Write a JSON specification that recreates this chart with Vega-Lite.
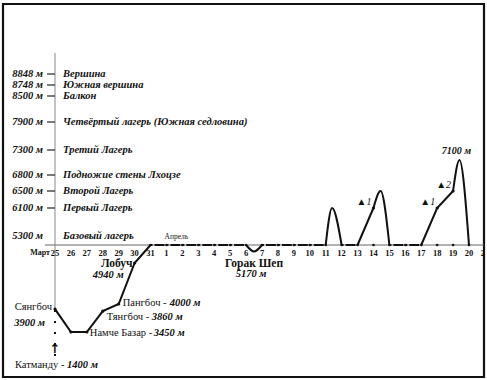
{
  "$schema": "https://vega.github.io/schema/vega-lite/v6.json",
  "width": 481,
  "height": 373,
  "autosize": {"type": "none"},
  "padding": {"left": 3, "top": 4, "right": 3, "bottom": 3},
  "background": "white",
  "config": {"view": {"stroke": "#111", "strokeWidth": 2.2}, "text": {"font": "Liberation Serif", "color": "#111"}},
  "datasets": {
    "camps": [
      {"alt": 8848, "label": "8848 м", "name": "Вершина"},
      {"alt": 8748, "label": "8748 м", "name": "Южная вершина"},
      {"alt": 8500, "label": "8500 м", "name": "Балкон"},
      {"alt": 7900, "label": "7900 м", "name": "Четвёртый лагерь (Южная седловина)"},
      {"alt": 7300, "label": "7300 м", "name": "Третий Лагерь"},
      {"alt": 6800, "label": "6800 м", "name": "Подножие стены Лхоцзе"},
      {"alt": 6500, "label": "6500 м", "name": "Второй Лагерь"},
      {"alt": 6100, "label": "6100 м", "name": "Первый Лагерь"},
      {"alt": 5300, "label": "5300 м", "name": "Базовый лагерь"}
    ],
    "trek": [
      {"seg": "t", "d": 0, "alt": 3900}, {"seg": "t", "d": 1, "alt": 3450}, {"seg": "t", "d": 2, "alt": 3450},
      {"seg": "t", "d": 3, "alt": 3860}, {"seg": "t", "d": 4, "alt": 4000}, {"seg": "t", "d": 5, "alt": 4940},
      {"seg": "t", "d": 6, "alt": 5300},
      {"seg": "p2", "d": 19, "alt": 5300}, {"seg": "p2", "d": 20, "alt": 6100},
      {"seg": "p3", "d": 23, "alt": 5300}, {"seg": "p3", "d": 24, "alt": 6100}, {"seg": "p3", "d": 25, "alt": 6500}
    ],
    "curves": [
      {"seg": "g", "d": 12, "alt": 5300}, {"seg": "g", "d": 12.5, "alt": 5170}, {"seg": "g", "d": 13, "alt": 5300},
      {"seg": "c1", "d": 17, "alt": 5300}, {"seg": "c1", "d": 17.4, "alt": 6100}, {"seg": "c1", "d": 18, "alt": 5300},
      {"seg": "c2", "d": 20, "alt": 6100}, {"seg": "c2", "d": 20.45, "alt": 6500}, {"seg": "c2", "d": 21, "alt": 5300},
      {"seg": "c3", "d": 25, "alt": 6500}, {"seg": "c3", "d": 25.4, "alt": 7100}, {"seg": "c3", "d": 26, "alt": 5300}
    ],
    "base": [
      {"seg": "a", "d": 6, "alt": 5300}, {"seg": "a", "d": 12, "alt": 5300},
      {"seg": "b", "d": 13, "alt": 5300}, {"seg": "b", "d": 17, "alt": 5300},
      {"seg": "c", "d": 18, "alt": 5300}, {"seg": "c", "d": 19, "alt": 5300},
      {"seg": "e", "d": 21, "alt": 5300}, {"seg": "e", "d": 23, "alt": 5300}
    ],
    "days": [
      {"d": 0, "t": "25"}, {"d": 1, "t": "26"}, {"d": 2, "t": "27"}, {"d": 3, "t": "28"}, {"d": 4, "t": "29"},
      {"d": 5, "t": "30"}, {"d": 6, "t": "31"}, {"d": 7, "t": "1"}, {"d": 8, "t": "2"}, {"d": 9, "t": "3"},
      {"d": 10, "t": "4"}, {"d": 11, "t": "5"}, {"d": 12, "t": "6"}, {"d": 13, "t": "7"}, {"d": 14, "t": "8"},
      {"d": 15, "t": "9"}, {"d": 16, "t": "10"}, {"d": 17, "t": "11"}, {"d": 18, "t": "12"}, {"d": 19, "t": "13"},
      {"d": 20, "t": "14"}, {"d": 21, "t": "15"}, {"d": 22, "t": "16"}, {"d": 23, "t": "17"}, {"d": 24, "t": "18"},
      {"d": 25, "t": "19"}, {"d": 26, "t": "20"}, {"d": 27, "t": "21"}
    ],
    "places": [
      {"key": "sang", "d": 0, "alt": 3900, "name": "Сянгбоч", "elev": "3900 м"},
      {"key": "namche", "d": 2, "alt": 3450, "name": "Намче Базар -", "elev": "3450 м"},
      {"key": "tang", "d": 3, "alt": 3860, "name": "Тянгбоч -", "elev": "3860 м"},
      {"key": "pang", "d": 4, "alt": 4000, "name": "Пангбоч -", "elev": "4000 м"},
      {"key": "lob", "d": 5, "alt": 4940, "name": "Лобуч", "elev": "4940 м"},
      {"key": "gorak", "d": 12.5, "alt": 5170, "name": "Горак Шеп", "elev": "5170 м"},
      {"key": "kat", "d": 0, "alt": 1400, "name": "Катманду -", "elev": "1400 м"}
    ],
    "peaks": [
      {"k": "a", "d": 20, "alt": 6100, "t": "▲1"},
      {"k": "b", "d": 24, "alt": 6100, "t": "▲1"},
      {"k": "c", "d": 25, "alt": 6500, "t": "▲2"},
      {"k": "top", "d": 25.4, "alt": 7100, "t": "7100 м"}
    ]
  },
  "layer": [
    {
      "data": {"values": [{"d": -0.63, "d2": 27.5, "alt": 5300}]},
      "mark": {"type": "rule", "color": "#666", "strokeWidth": 1, "clip": true},
      "encoding": {
        "x": {"field": "d", "type": "quantitative", "scale": {"domain": [-3.266, 26.942], "nice": false, "zero": false}, "axis": null},
        "x2": {"field": "d2"},
        "y": {"field": "alt", "type": "quantitative", "scale": {"domain": [1400, 3450, 4000, 4940, 5300, 6100, 6500, 6800, 7300, 7900, 8500, 8748, 8848, 9300], "range": [352, 328, 300, 259, 241, 204, 187, 171, 146, 118, 92, 81, 70, 49], "nice": false, "zero": false}, "axis": null}
      }
    },
    {
      "data": {"values": [{"d": 0, "alt": 3900, "alt2": 9300}]},
      "mark": {"type": "rule", "color": "#888", "strokeWidth": 1},
      "encoding": {
        "x": {"field": "d", "type": "quantitative"},
        "y": {"field": "alt", "type": "quantitative"},
        "y2": {"field": "alt2"}
      }
    },
    {
      "data": {"name": "camps"},
      "transform": [{"filter": "datum.alt != 5300"}],
      "mark": {"type": "rule", "color": "#222", "strokeWidth": 1.2},
      "encoding": {
        "x": {"datum": -0.5, "type": "quantitative"},
        "x2": {"datum": 0},
        "y": {"field": "alt", "type": "quantitative"}
      }
    },
    {
      "data": {"name": "camps"},
      "transform": [{"filter": "datum.alt != 5300"}],
      "mark": {"type": "text", "align": "right", "baseline": "middle", "dx": -12, "dy": 0, "fontSize": 10.5, "fontStyle": "italic", "fontWeight": "bold"},
      "encoding": {
        "x": {"datum": 0, "type": "quantitative"},
        "y": {"field": "alt", "type": "quantitative"},
        "text": {"field": "label"}
      }
    },
    {
      "data": {"name": "camps"},
      "transform": [{"filter": "datum.alt != 5300"}],
      "mark": {"type": "text", "align": "left", "baseline": "middle", "dx": 8, "dy": 0, "fontSize": 10.5, "fontStyle": "italic", "fontWeight": "bold"},
      "encoding": {
        "x": {"datum": 0, "type": "quantitative"},
        "y": {"field": "alt", "type": "quantitative"},
        "text": {"field": "name"}
      }
    },
    {
      "data": {"name": "camps"},
      "transform": [{"filter": "datum.alt == 5300"}],
      "mark": {"type": "text", "align": "right", "baseline": "middle", "dx": -12, "dy": -9, "fontSize": 10.5, "fontStyle": "italic", "fontWeight": "bold"},
      "encoding": {
        "x": {"datum": 0, "type": "quantitative"},
        "y": {"field": "alt", "type": "quantitative"},
        "text": {"field": "label"}
      }
    },
    {
      "data": {"name": "camps"},
      "transform": [{"filter": "datum.alt == 5300"}],
      "mark": {"type": "text", "align": "left", "baseline": "middle", "dx": 8, "dy": -9, "fontSize": 10.5, "fontStyle": "italic", "fontWeight": "bold"},
      "encoding": {
        "x": {"datum": 0, "type": "quantitative"},
        "y": {"field": "alt", "type": "quantitative"},
        "text": {"field": "name"}
      }
    },
    {
      "data": {"values": [{"d": 0, "alt": 1400, "alt2": 3900}]},
      "mark": {"type": "rule", "color": "#111", "strokeWidth": 2, "strokeDash": [2, 9]},
      "encoding": {
        "x": {"field": "d", "type": "quantitative"},
        "y": {"field": "alt", "type": "quantitative"},
        "y2": {"field": "alt2"}
      }
    },
    {
      "data": {"name": "places"},
      "transform": [{"filter": "datum.key == 'kat'"}],
      "mark": {"type": "text", "align": "center", "baseline": "bottom", "dy": 0, "font": "DejaVu Sans", "fontSize": 13, "fontWeight": "bold"},
      "encoding": {
        "x": {"field": "d", "type": "quantitative"},
        "y": {"field": "alt", "type": "quantitative"},
        "text": {"value": "↑"}
      }
    },
    {
      "data": {"name": "base"},
      "mark": {"type": "line", "color": "#111", "strokeWidth": 2.2, "strokeDash": [2, 2, 9.92, 2]},
      "encoding": {
        "x": {"field": "d", "type": "quantitative"},
        "y": {"field": "alt", "type": "quantitative"},
        "detail": {"field": "seg"}
      }
    },
    {
      "data": {"name": "trek"},
      "mark": {"type": "line", "color": "#111", "strokeWidth": 2},
      "encoding": {
        "x": {"field": "d", "type": "quantitative"},
        "y": {"field": "alt", "type": "quantitative"},
        "detail": {"field": "seg"}
      }
    },
    {
      "data": {"name": "curves"},
      "mark": {"type": "line", "color": "#111", "strokeWidth": 2, "interpolate": "monotone"},
      "encoding": {
        "x": {"field": "d", "type": "quantitative"},
        "y": {"field": "alt", "type": "quantitative"},
        "detail": {"field": "seg"}
      }
    },
    {
      "data": {"name": "days"},
      "transform": [{"filter": "datum.d >= 6 && datum.d <= 26"}],
      "mark": {"type": "point", "shape": "circle", "filled": true, "color": "#111", "size": 7, "opacity": 1},
      "encoding": {
        "x": {"field": "d", "type": "quantitative"},
        "y": {"datum": 5300, "type": "quantitative"}
      }
    },
    {
      "data": {"name": "trek"},
      "transform": [{"filter": "datum.alt != 5300"}],
      "mark": {"type": "point", "shape": "circle", "filled": true, "color": "#111", "size": 10, "opacity": 1},
      "encoding": {
        "x": {"field": "d", "type": "quantitative"},
        "y": {"field": "alt", "type": "quantitative"}
      }
    },
    {
      "data": {"name": "days"},
      "mark": {"type": "text", "align": "center", "baseline": "middle", "dy": 8, "fontSize": 8.5, "fontWeight": "bold", "clip": true},
      "encoding": {
        "x": {"field": "d", "type": "quantitative"},
        "y": {"datum": 5300, "type": "quantitative"},
        "text": {"field": "t"}
      }
    },
    {
      "data": {"values": [{"d": 0, "alt": 5300, "t": "Март"}]},
      "mark": {"type": "text", "align": "right", "baseline": "middle", "dx": -5, "dy": 8, "fontSize": 8, "fontWeight": "bold"},
      "encoding": {
        "x": {"field": "d", "type": "quantitative"},
        "y": {"field": "alt", "type": "quantitative"},
        "text": {"field": "t"}
      }
    },
    {
      "data": {"values": [{"d": 7, "alt": 5300, "t": "Апрель"}]},
      "mark": {"type": "text", "align": "left", "baseline": "middle", "dx": -2, "dy": -8, "fontSize": 7.5},
      "encoding": {
        "x": {"field": "d", "type": "quantitative"},
        "y": {"field": "alt", "type": "quantitative"},
        "text": {"field": "t"}
      }
    },
    {
      "data": {"name": "places"},
      "transform": [{"filter": "datum.key == 'sang'"}],
      "mark": {"type": "text", "align": "right", "baseline": "middle", "dx": -3, "dy": -2, "fontSize": 10.5},
      "encoding": {"x": {"field": "d", "type": "quantitative"}, "y": {"field": "alt", "type": "quantitative"}, "text": {"field": "name"}}
    },
    {
      "data": {"name": "places"},
      "transform": [{"filter": "datum.key == 'sang'"}],
      "mark": {"type": "text", "align": "right", "baseline": "middle", "dx": -10, "dy": 14, "fontSize": 10.5, "fontStyle": "italic", "fontWeight": "bold"},
      "encoding": {"x": {"field": "d", "type": "quantitative"}, "y": {"field": "alt", "type": "quantitative"}, "text": {"field": "elev"}}
    },
    {
      "data": {"name": "places"},
      "transform": [{"filter": "datum.key == 'namche'"}],
      "mark": {"type": "text", "align": "left", "baseline": "middle", "dx": 3, "dy": 1, "fontSize": 10.5},
      "encoding": {"x": {"field": "d", "type": "quantitative"}, "y": {"field": "alt", "type": "quantitative"}, "text": {"field": "name"}}
    },
    {
      "data": {"name": "places"},
      "transform": [{"filter": "datum.key == 'namche'"}],
      "mark": {"type": "text", "align": "left", "baseline": "middle", "dx": 67, "dy": 1, "fontSize": 10.5, "fontStyle": "italic", "fontWeight": "bold"},
      "encoding": {"x": {"field": "d", "type": "quantitative"}, "y": {"field": "alt", "type": "quantitative"}, "text": {"field": "elev"}}
    },
    {
      "data": {"name": "places"},
      "transform": [{"filter": "datum.key == 'tang'"}],
      "mark": {"type": "text", "align": "left", "baseline": "middle", "dx": 4, "dy": 6, "fontSize": 10.5},
      "encoding": {"x": {"field": "d", "type": "quantitative"}, "y": {"field": "alt", "type": "quantitative"}, "text": {"field": "name"}}
    },
    {
      "data": {"name": "places"},
      "transform": [{"filter": "datum.key == 'tang'"}],
      "mark": {"type": "text", "align": "left", "baseline": "middle", "dx": 49, "dy": 6, "fontSize": 10.5, "fontStyle": "italic", "fontWeight": "bold"},
      "encoding": {"x": {"field": "d", "type": "quantitative"}, "y": {"field": "alt", "type": "quantitative"}, "text": {"field": "elev"}}
    },
    {
      "data": {"name": "places"},
      "transform": [{"filter": "datum.key == 'pang'"}],
      "mark": {"type": "text", "align": "left", "baseline": "middle", "dx": 4, "dy": -1, "fontSize": 10.5},
      "encoding": {"x": {"field": "d", "type": "quantitative"}, "y": {"field": "alt", "type": "quantitative"}, "text": {"field": "name"}}
    },
    {
      "data": {"name": "places"},
      "transform": [{"filter": "datum.key == 'pang'"}],
      "mark": {"type": "text", "align": "left", "baseline": "middle", "dx": 51, "dy": -1, "fontSize": 10.5, "fontStyle": "italic", "fontWeight": "bold"},
      "encoding": {"x": {"field": "d", "type": "quantitative"}, "y": {"field": "alt", "type": "quantitative"}, "text": {"field": "elev"}}
    },
    {
      "data": {"name": "places"},
      "transform": [{"filter": "datum.key == 'lob'"}],
      "mark": {"type": "text", "align": "right", "baseline": "middle", "dx": -2, "dy": 1, "fontSize": 11.5, "fontWeight": "bold"},
      "encoding": {"x": {"field": "d", "type": "quantitative"}, "y": {"field": "alt", "type": "quantitative"}, "text": {"field": "name"}}
    },
    {
      "data": {"name": "places"},
      "transform": [{"filter": "datum.key == 'lob'"}],
      "mark": {"type": "text", "align": "right", "baseline": "middle", "dx": -11, "dy": 12, "fontSize": 10.5, "fontStyle": "italic", "fontWeight": "bold"},
      "encoding": {"x": {"field": "d", "type": "quantitative"}, "y": {"field": "alt", "type": "quantitative"}, "text": {"field": "elev"}}
    },
    {
      "data": {"name": "places"},
      "transform": [{"filter": "datum.key == 'gorak'"}],
      "mark": {"type": "text", "align": "center", "baseline": "middle", "dx": 0, "dy": 12, "fontSize": 11.5, "fontWeight": "bold"},
      "encoding": {"x": {"field": "d", "type": "quantitative"}, "y": {"field": "alt", "type": "quantitative"}, "text": {"field": "name"}}
    },
    {
      "data": {"name": "places"},
      "transform": [{"filter": "datum.key == 'gorak'"}],
      "mark": {"type": "text", "align": "center", "baseline": "middle", "dx": -3, "dy": 22, "fontSize": 10.5, "fontStyle": "italic", "fontWeight": "bold"},
      "encoding": {"x": {"field": "d", "type": "quantitative"}, "y": {"field": "alt", "type": "quantitative"}, "text": {"field": "elev"}}
    },
    {
      "data": {"name": "places"},
      "transform": [{"filter": "datum.key == 'kat'"}],
      "mark": {"type": "text", "align": "left", "baseline": "middle", "dx": -40, "dy": 9, "fontSize": 10.5},
      "encoding": {"x": {"field": "d", "type": "quantitative"}, "y": {"field": "alt", "type": "quantitative"}, "text": {"field": "name"}}
    },
    {
      "data": {"name": "places"},
      "transform": [{"filter": "datum.key == 'kat'"}],
      "mark": {"type": "text", "align": "left", "baseline": "middle", "dx": 12, "dy": 9, "fontSize": 10.5, "fontStyle": "italic", "fontWeight": "bold"},
      "encoding": {"x": {"field": "d", "type": "quantitative"}, "y": {"field": "alt", "type": "quantitative"}, "text": {"field": "elev"}}
    },
    {
      "data": {"name": "peaks"},
      "transform": [{"filter": "datum.k != 'top'"}],
      "mark": {"type": "text", "align": "right", "baseline": "middle", "dx": -2, "dy": -6, "fontSize": 10, "fontStyle": "italic"},
      "encoding": {"x": {"field": "d", "type": "quantitative"}, "y": {"field": "alt", "type": "quantitative"}, "text": {"field": "t"}}
    },
    {
      "data": {"name": "peaks"},
      "transform": [{"filter": "datum.k == 'top'"}],
      "mark": {"type": "text", "align": "center", "baseline": "middle", "dx": -3, "dy": -9, "fontSize": 10, "fontStyle": "italic", "fontWeight": "bold"},
      "encoding": {"x": {"field": "d", "type": "quantitative"}, "y": {"field": "alt", "type": "quantitative"}, "text": {"field": "t"}}
    }
  ]
}
